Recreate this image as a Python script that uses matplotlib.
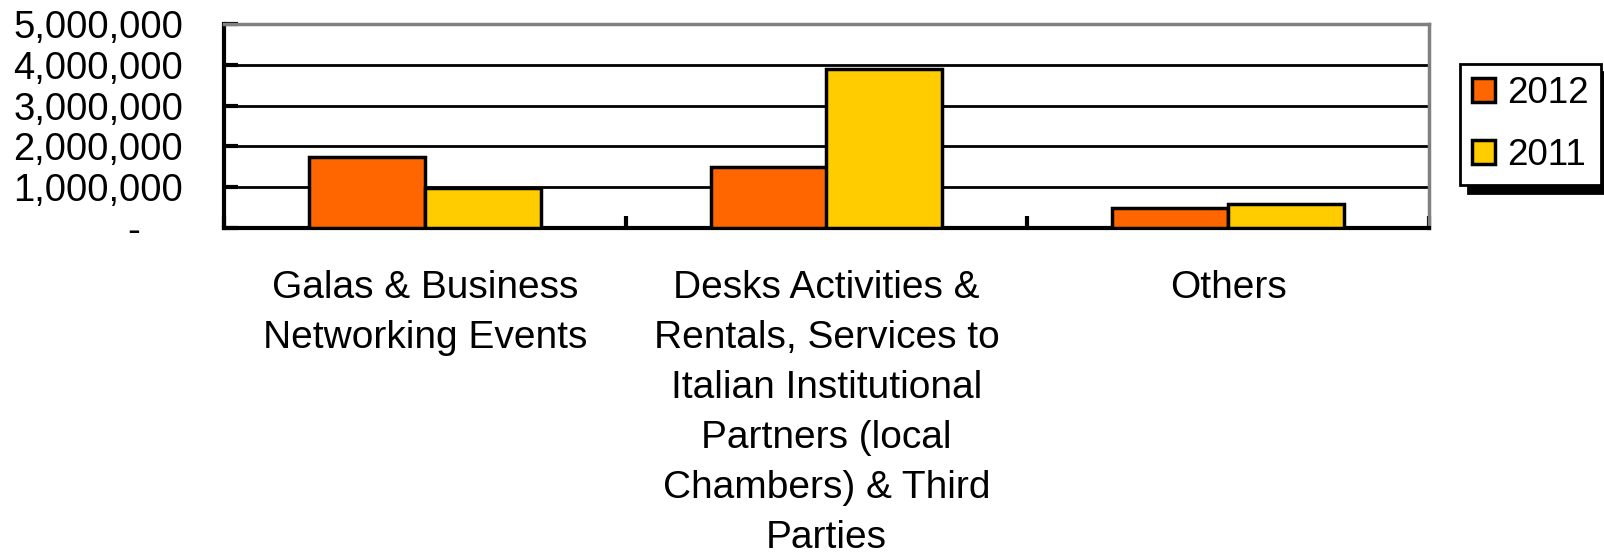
import matplotlib
matplotlib.use("Agg")
import matplotlib.pyplot as plt
import numpy as np
from matplotlib.ticker import FixedLocator, FuncFormatter

plt.rcParams['font.family'] = ['Liberation Sans', 'DejaVu Sans']

categories = ["Galas & Business\nNetworking Events",
              "Desks Activities &\nRentals, Services to\nItalian Institutional\nPartners (local\nChambers) & Third\nParties",
              "Others"]
series_names = ["2012", "2011"]
values_2012 = [1730000, 1500000, 500000]
values_2011 = [980000, 3890000, 580000]
colors = ["#FF6600", "#FFCC00"]
y_ticks = [0, 1000000, 2000000, 3000000, 4000000, 5000000]

fig = plt.figure(figsize=(16.04, 5.55), dpi=100)
ax = fig.add_axes([224/1604, 1-228/555, (1429-224)/1604, (228-24)/555])

x = np.arange(len(categories))
w = 0.288
b1 = ax.bar(x - w/2, values_2012, w, color=colors[0], edgecolor="black", linewidth=2.5, label=series_names[0], zorder=3)
b2 = ax.bar(x + w/2, values_2011, w, color=colors[1], edgecolor="black", linewidth=2.5, label=series_names[1], zorder=3)

ax.set_xlim(-0.5, len(categories) - 0.5)
ax.set_ylim(0, 5000000)
ax.yaxis.set_major_locator(FixedLocator(y_ticks))
ax.yaxis.set_major_formatter(FuncFormatter(lambda v, p: "-    " if v == 0 else f"{int(v):,}"))
ax.set_xticks(x)
ax.set_xticklabels(categories, linespacing=1.5)
ax.set_xticks(np.arange(-0.5, len(categories), 1.0), minor=True)
ax.tick_params(axis="x", which="major", length=0, pad=30, labelsize=28)
ax.tick_params(axis="x", which="minor", direction="in", length=9, width=3, color="black")
ax.tick_params(axis="y", direction="in", length=10, width=3, pad=29.5, labelsize=27.5)

ax.grid(axis="y", color="black", linewidth=2)
ax.set_axisbelow(True)
for s in ["left", "bottom"]:
    ax.spines[s].set_linewidth(3)
    ax.spines[s].set_color("black")
for s in ["top", "right"]:
    ax.spines[s].set_linewidth(2.5)
    ax.spines[s].set_color("#808080")

leg = fig.legend(handles=[b1, b2], labels=series_names, loc="upper left",
                 bbox_to_anchor=(1460/1604, 1-64/555), frameon=True, fancybox=False,
                 edgecolor="black", fontsize=26.5, handlelength=0.62, handleheight=0.62,
                 handletextpad=0.33, borderpad=0.33, labelspacing=0.72, borderaxespad=0,
                 shadow={"ox": 6, "oy": -6, "color": "black", "alpha": 1})
leg.get_frame().set_linewidth(2)
leg.get_frame().set_alpha(1)

fig.savefig("out.png", dpi=100)
